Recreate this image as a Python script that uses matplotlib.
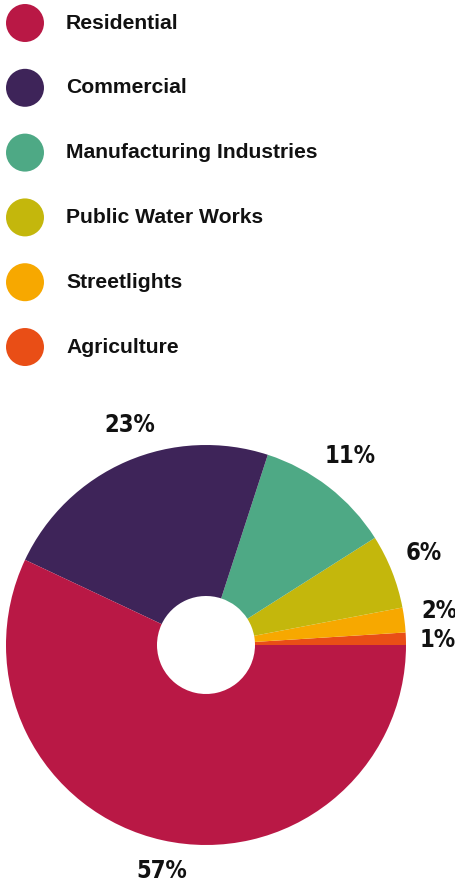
import numpy as np
import matplotlib.pyplot as plt

# electricity consumption share by sector
sectors = ["Residential", "Commercial", "Manufacturing Industries",
           "Public Water Works", "Streetlights", "Agriculture"]
shares = [57, 23, 11, 6, 2, 1]
colors = ["#B91845", "#3E2459", "#4EA985", "#C4B70C", "#F7A800", "#E94E16"]

fig = plt.figure(figsize=(4.55, 8.86), dpi=100)

# legend block at the top: one row per sector
lax = fig.add_axes([0, 1 - 380 / 886, 1, 380 / 886])
lax.set_xlim(0, 455)
lax.set_ylim(5.509, -0.355)
lax.axis("off")
rows = np.arange(len(sectors))
lax.scatter(np.full(len(rows), 25), rows, s=748, c=colors, linewidths=0)
for i, name in enumerate(sectors):
    lax.text(66, i, name, ha="left", va="center", fontsize=15.2,
             fontweight="bold", color="#111111",
             family=["Liberation Sans", "DejaVu Sans"])

# donut with a small hole, wedges counterclockwise from 3 o'clock
ax = fig.add_axes([6 / 455, 41 / 886, 400 / 455, 400 / 886])
vals = shares[::-1]
cols = colors[::-1]
wedges, _ = ax.pie(vals, colors=cols, startangle=0, counterclock=True,
                   wedgeprops=dict(width=0.755, linewidth=0))

# percentage labels just outside each wedge (small angle/radius nudges)
nudge = [-0.6, 1.1, 1.4, 0.5, -4.3, 1.6]
dist = [1.16, 1.18, 1.18, 1.19, 1.165, 1.15]
for w, v, dn, r in zip(wedges, vals, nudge, dist):
    th = np.deg2rad((w.theta1 + w.theta2) / 2 + dn)
    ax.text(r * np.cos(th), r * np.sin(th), f"{v}%", ha="center", va="center",
            fontsize=17, fontweight="bold", fontstretch="condensed",
            family="DejaVu Sans", color="#111111")
ax.set_xlim(-1, 1)
ax.set_ylim(-1, 1)
ax.set_aspect("equal")

fig.savefig("out.png", dpi=100)
